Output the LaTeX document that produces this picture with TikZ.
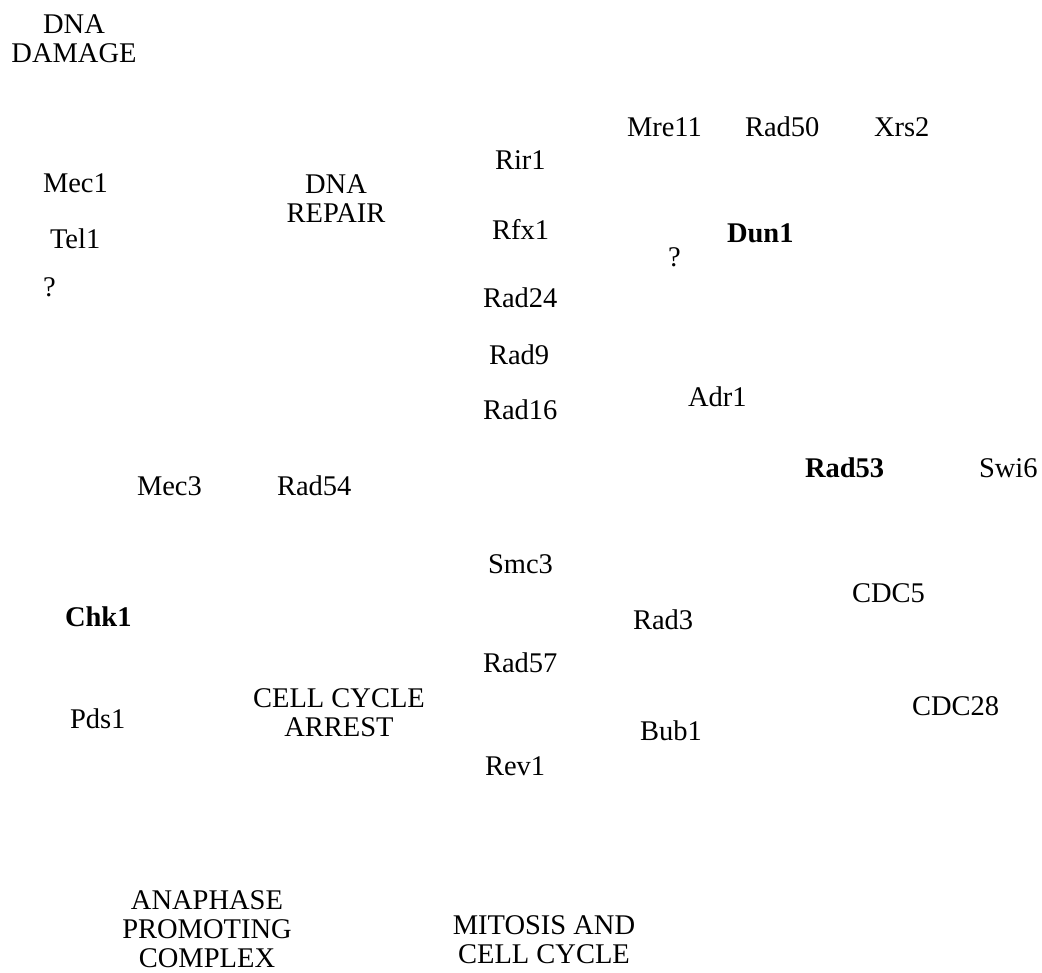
\documentclass[tikz,border=0pt]{standalone}
\usepackage{fontspec}
\setmainfont{Liberation Serif}
\usetikzlibrary{positioning}

\begin{document}
\begin{tikzpicture}[x=1pt,y=-1pt,
  every node/.style={inner sep=0pt,outer sep=0pt,font=\fontsize{28.5}{29}\selectfont},
  gene/.style={anchor=base west},
  hub/.style={anchor=base west,font=\fontsize{28.5}{29}\selectfont\bfseries},
  process/.style={anchor=north,align=center}]
\useasboundingbox (0,0) rectangle (1042,973);
% processes
\node[process] (damage) at (74,14.5) {DNA\\DAMAGE};
\node[process] (repair) at (336,175) {DNA\\REPAIR};
\node[process] (arrest) at (339,689) {CELL CYCLE\\ARREST};
\node[process] (apc) at (207,891) {ANAPHASE\\PROMOTING\\COMPLEX};
\node[process] (mitosis) at (544,916) {MITOSIS AND\\CELL CYCLE};
% left column
\node[gene] (mec1) at (43,193) {Mec1};
\node[gene] (tel1) at (50,249) {Tel1};
\node[gene] (q1) at (43,297) {?};
\node[gene] (mec3) at (137,496) {Mec3};
\node[gene] (rad54) at (277,496) {Rad54};
\node[hub] (chk1) at (65,626) {Chk1};
\node[gene] (pds1) at (70,728) {Pds1};
% middle column
\node[gene] (rir1) at (495,170) {Rir1};
\node[gene] (rfx1) at (492,240) {Rfx1};
\node[gene] (rad24) at (483,308) {Rad24};
\node[gene] (rad9) at (489,365) {Rad9};
\node[gene] (rad16) at (483,420) {Rad16};
\node[gene] (smc3) at (488,573) {Smc3};
\node[gene] (rad57) at (483,672) {Rad57};
\node[gene] (rev1) at (485,775) {Rev1};
\node[gene] (rad3) at (633,629) {Rad3};
\node[gene] (bub1) at (640,740) {Bub1};
% right side
\node[gene] (mre11) at (627,137) {Mre11};
\node[gene] (rad50) at (745,137) {Rad50};
\node[gene] (xrs2) at (874,137) {Xrs2};
\node[gene] (q2) at (668,267) {?};
\node[hub] (dun1) at (727,243) {Dun1};
\node[gene] (adr1) at (688,407) {Adr1};
\node[hub] (rad53) at (805,478) {Rad53};
\node[gene] (swi6) at (979,478) {Swi6};
\node[gene] (cdc5) at (852,602) {CDC5};
\node[gene] (cdc28) at (912,715) {CDC28};
\end{tikzpicture}
\end{document}
